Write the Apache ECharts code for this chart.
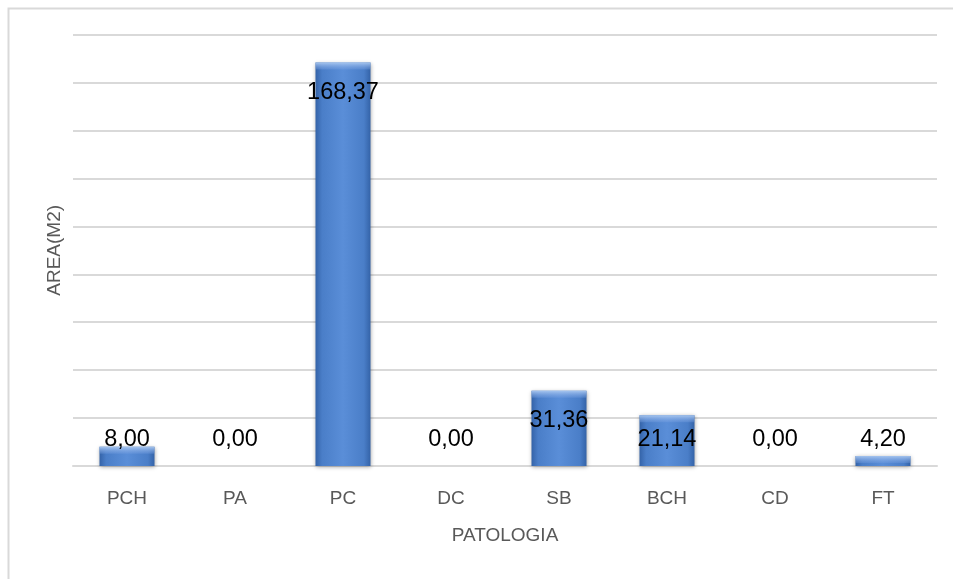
<!DOCTYPE html>
<html>
<head>
<meta charset="utf-8">
<script src="https://cdn.jsdelivr.net/npm/echarts@6/dist/echarts.min.js"></script>
<style>
  html, body { margin: 0; padding: 0; background: #ffffff; }
  #chart { width: 953px; height: 579px; }
</style>
</head>
<body>
<div id="chart"></div>
<script>
// Área afectada por patología (m²)
const categories = ['PCH', 'PA', 'PC', 'DC', 'SB', 'BCH', 'CD', 'FT'];
const areaValues = [8.00, 0.00, 168.37, 0.00, 31.36, 21.14, 0.00, 4.20];
const yMax = 180;
const yStep = 20;

const fmt = v => v.toFixed(2).replace('.', ',');
const FONT = '"Liberation Sans", Arial, sans-serif';

const chart = echarts.init(document.getElementById('chart'), null, { renderer: 'canvas' });

const barFill = new echarts.graphic.LinearGradient(0, 0, 1, 0, [
  { offset: 0, color: '#3463a8' },
  { offset: 0.12, color: '#4a7ec8' },
  { offset: 0.5, color: '#5a8ed8' },
  { offset: 0.88, color: '#4a7ec8' },
  { offset: 1, color: '#3463a8' }
]);

chart.setOption({
  animation: false,
  graphic: [{
    type: 'rect',
    left: 6, top: 6,
    shape: { width: 970, height: 600 },
    style: { fill: 'none', stroke: '#d9d9d9', lineWidth: 2 },
    silent: true,
    z: -1
  }],
  grid: { left: 73, right: 16, top: 34.7, bottom: 113 },
  xAxis: {
    type: 'category',
    data: categories,
    name: 'PATOLOGIA',
    nameLocation: 'middle',
    nameGap: 60,
    nameTextStyle: { color: '#595959', fontSize: 19, fontFamily: FONT },
    axisLine: { lineStyle: { color: '#d9d9d9', width: 2 } },
    axisTick: { show: false },
    axisLabel: { color: '#595959', fontSize: 19, fontFamily: FONT, margin: 23 }
  },
  yAxis: {
    type: 'value',
    min: 0, max: yMax, interval: yStep,
    name: 'AREA(M2)',
    nameLocation: 'middle',
    nameGap: 9,
    nameTextStyle: { color: '#595959', fontSize: 19, fontFamily: FONT },
    axisLine: { show: false },
    axisTick: { show: false },
    axisLabel: { show: false },
    splitLine: { lineStyle: { color: '#d9d9d9', width: 2 } }
  },
  series: [
    {
      type: 'bar',
      data: areaValues,
      barWidth: 55,
      itemStyle: {
        color: barFill,
        shadowBlur: 4,
        shadowColor: 'rgba(0,0,0,0.35)',
        shadowOffsetY: 1
      },
      z: 2
    },
    {
      // top bevel highlight and value labels
      type: 'custom',
      data: areaValues.map((v, i) => [i, v]),
      z: 3,
      renderItem: function (params, api) {
        const i = api.value(0);
        const v = api.value(1);
        const top = api.coord([i, v]);
        const base = api.coord([i, 0]);
        const half = 27.5;
        const h = base[1] - top[1];
        const children = [];
        if (h > 0.5) {
          const bh = Math.min(7, h);
          children.push({
            type: 'rect',
            shape: { x: top[0] - half, y: top[1], width: half * 2, height: bh },
            style: {
              fill: new echarts.graphic.LinearGradient(0, 0, 0, 1, [
                { offset: 0, color: 'rgba(170,200,240,0.95)' },
                { offset: 1, color: 'rgba(120,160,225,0.3)' }
              ])
            }
          });
        }
        const ly = Math.min(top[1] + 30, base[1] - 26);
        children.push({
          type: 'text',
          x: top[0], y: ly,
          style: {
            text: fmt(v),
            fill: '#000000',
            fontSize: 23.5,
            fontFamily: FONT,
            align: 'center',
            verticalAlign: 'middle'
          }
        });
        return { type: 'group', children: children };
      }
    }
  ]
});
</script>
</body>
</html>
